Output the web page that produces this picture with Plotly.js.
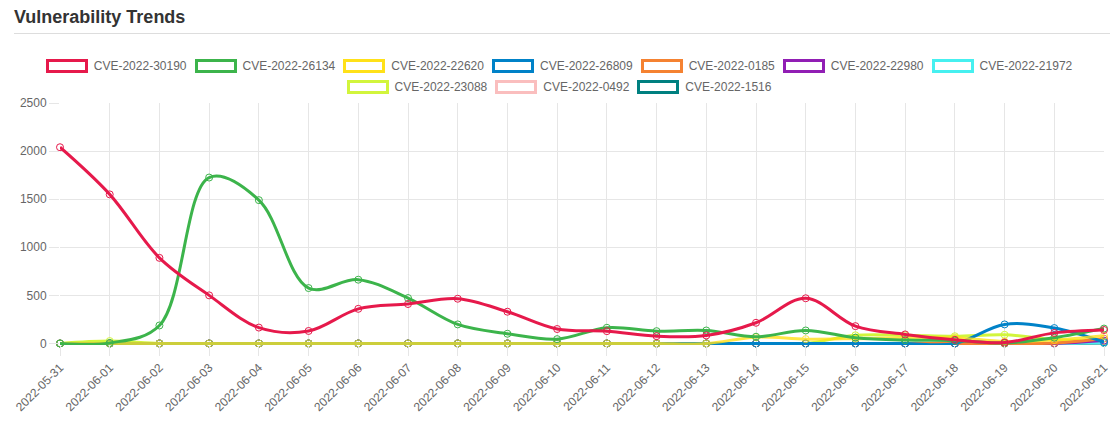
<!DOCTYPE html>
<html>
<head>
<meta charset="utf-8">
<script src="https://cdn.plot.ly/plotly-3.0.1.min.js"></script>
<style>
  html, body { margin: 0; padding: 0; background: #fff; }
  body { width: 1118px; height: 428px; position: relative; overflow: hidden; font-family: "Liberation Sans", Arial, Helvetica, sans-serif; }
  #title { position: absolute; left: 14px; top: 7px; font-size: 18px; font-weight: bold; color: #333; }
  #rule { position: absolute; left: 14px; right: 8px; top: 33px; height: 0; border-top: 1px solid #ddd; }
  #chart { position: absolute; left: 0; top: 0; width: 1118px; height: 428px; }
  .lrow { position: absolute; left: 0; width: 1118px; display: flex; justify-content: center; align-items: center; font-size: 12px; color: #666; }
  .item { display: flex; align-items: center; margin: 0 4px; }
  .box { width: 36px; height: 8px; border: 3px solid; margin-right: 6px; background: #fff; }
</style>
</head>
<body>
<div id="chart"></div>
<div id="title">Vulnerability Trends</div>
<div id="rule"></div>
<div class="lrow" id="row1" style="top:58px;height:16px;"></div>
<div class="lrow" id="row2" style="top:79px;height:16px;"></div>
<script>
const dates = ['2022-05-31','2022-06-01','2022-06-02','2022-06-03','2022-06-04','2022-06-05','2022-06-06','2022-06-07','2022-06-08','2022-06-09','2022-06-10','2022-06-11','2022-06-12','2022-06-13','2022-06-14','2022-06-15','2022-06-16','2022-06-17','2022-06-18','2022-06-19','2022-06-20','2022-06-21'];

const seriesNames = ['CVE-2022-30190','CVE-2022-26134','CVE-2022-22620','CVE-2022-26809','CVE-2022-0185','CVE-2022-22980','CVE-2022-21972','CVE-2022-23088','CVE-2022-0492','CVE-2022-1516'];
const seriesColors = ['#e6194b','#3cb44b','#ffe119','#0082c8','#f58231','#911eb4','#46f0f0','#d2f53c','#fabebe','#008080'];

const cve_2022_30190 = [2040,1550,890,500,165,130,360,410,465,330,150,128,76,83,215,470,180,94,38,10,110,140];
const cve_2022_26134 = [0,5,187,1725,1490,576,663,472,198,101,45,163,128,135,70,135,60,35,30,5,60,155];
const cve_2022_22620 = [0,0,0,0,0,0,0,0,0,0,0,0,0,0,65,45,50,60,60,20,35,80];
const cve_2022_26809 = [0,0,0,0,0,0,0,0,0,0,0,0,0,0,0,0,0,0,0,198,160,14];
const cve_2022_0185  = [0,0,0,0,0,0,0,0,0,0,0,0,0,0,0,0,0,0,0,0,5,50];
const cve_2022_22980 = [0,0,0,0,0,0,0,0,0,0,0,0,0,0,0,0,0,0,0,0,0,30];
const cve_2022_21972 = [0,0,0,0,0,0,0,0,0,0,0,0,0,0,0,0,0,0,0,0,0,10];
const cve_2022_23088 = [0,25,0,0,0,0,0,0,0,0,0,0,0,0,0,0,85,85,75,90,40,25];
const cve_2022_0492  = [0,0,0,0,0,0,0,0,0,0,0,0,0,0,0,0,0,0,0,0,0,20];
const cve_2022_1516  = [0,0,0,0,0,0,0,0,0,0,0,0,0,0,0,0,0,0,0,0,0,5];

const seriesValues = [cve_2022_30190, cve_2022_26134, cve_2022_22620, cve_2022_26809, cve_2022_0185, cve_2022_22980, cve_2022_21972, cve_2022_23088, cve_2022_0492, cve_2022_1516];
const yTicks = [0,500,1000,1500,2000,2500];

// Build traces; first series drawn on top (added last)
const traces = [];
for (let i = seriesNames.length - 1; i >= 0; i--) {
  traces.push({
    type: 'scatter',
    mode: 'lines+markers',
    name: seriesNames[i],
    x: dates,
    y: seriesValues[i],
    line: { color: seriesColors[i], width: 3, shape: 'spline', smoothing: 1 },
    marker: { symbol: 'circle-open', size: 7, color: seriesColors[i], line: { width: 1, color: seriesColors[i] } },
    opacity: i === 2 ? 0.8 : 1,
    cliponaxis: false,
    hoverinfo: 'x+y+name'
  });
}

const tickFont = { family: '"Liberation Sans", Arial, Helvetica, sans-serif', size: 12, color: '#666' };

const layout = {
  width: 1118, height: 428, autosize: false,
  margin: { l: 60, r: 14, t: 103, b: 83, pad: 0 },
  paper_bgcolor: 'rgba(0,0,0,0)',
  plot_bgcolor: 'rgba(0,0,0,0)',
  showlegend: false,
  xaxis: {
    type: 'category',
    range: [0, dates.length - 1],
    tickangle: -45,
    tickfont: tickFont,
    showgrid: true, gridcolor: '#e6e6e6', gridwidth: 1,
    ticks: 'outside', ticklen: 10, tickcolor: '#e6e6e6',
    zeroline: false, showline: false,
    fixedrange: true
  },
  yaxis: {
    range: [-16, 2500],
    tickmode: 'array', tickvals: yTicks, ticktext: yTicks.map(String),
    tickfont: tickFont,
    showgrid: true, gridcolor: '#e6e6e6', gridwidth: 1,
    ticks: 'outside', ticklen: 10, tickcolor: '#e6e6e6',
    zeroline: false, showline: false,
    fixedrange: true
  }
};

Plotly.newPlot('chart', traces, layout, { displayModeBar: false });

// HTML legend mirroring the series list
function addItem(row, i) {
  const it = document.createElement('div'); it.className = 'item';
  const b = document.createElement('span'); b.className = 'box'; b.style.borderColor = seriesColors[i];
  const t = document.createElement('span'); t.textContent = seriesNames[i];
  it.appendChild(b); it.appendChild(t); row.appendChild(it);
}
const r1 = document.getElementById('row1'), r2 = document.getElementById('row2');
seriesNames.forEach((n, i) => addItem(i < 7 ? r1 : r2, i));
</script>
</body>
</html>
